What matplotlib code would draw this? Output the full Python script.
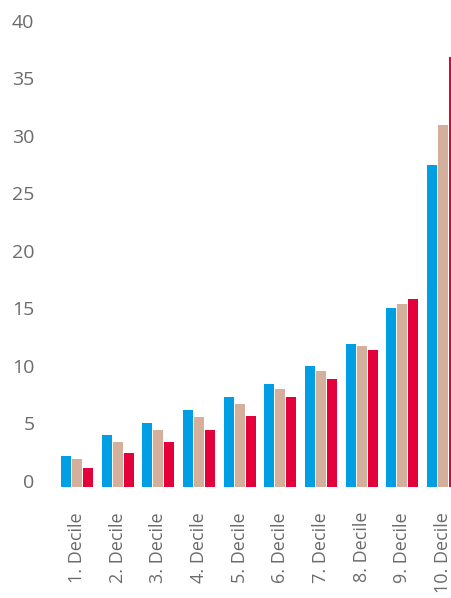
import numpy as np
import matplotlib.pyplot as plt
from matplotlib.transforms import ScaledTranslation

# Werte je Dezil
deciles = ['1. Decile', '2. Decile', '3. Decile', '4. Decile', '5. Decile',
           '6. Decile', '7. Decile', '8. Decile', '9. Decile', '10. Decile']
serie_a = [2.7, 4.5, 5.6, 6.7, 7.8, 9.0, 10.5, 12.4, 15.6, 28.0]
serie_b = [2.4, 3.9, 5.0, 6.1, 7.2, 8.5, 10.1, 12.3, 15.9, 31.5]
serie_c = [1.65, 3.0, 3.9, 5.0, 6.2, 7.8, 9.4, 11.9, 16.35, 37.4]

cores = ['#009FE3', '#D4B09C', '#E4003A']
cinza = '#6b6b6b'

plt.rcParams['font.family'] = ['Open Sans', 'DejaVu Sans']

fig = plt.figure(figsize=(4.52, 5.98), dpi=100)
ax = fig.add_axes([40 / 452, 1 - 487 / 598, 412 / 452, 477 / 598])

x = np.arange(len(deciles))
w = 0.246
passo = 0.27
for k, (vals, cor) in enumerate(zip([serie_a, serie_b, serie_c], cores)):
    ax.bar(x + (k - 1) * passo, vals, width=w, color=cor, linewidth=0)

ax.set_xlim(-0.91, 9.22)
ax.set_ylim(0, 41.5)
ax.set_yticks(np.arange(0, 41, 5))
ax.set_xticks(x)
ax.set_xticklabels(deciles, rotation=90, va='top', ha='center')

for s in ax.spines.values():
    s.set_visible(False)
ax.tick_params(axis='both', length=0, colors=cinza)
ax.tick_params(axis='y', pad=4, labelsize=14)
ax.tick_params(axis='x', pad=18, labelsize=13)

# rótulos do eixo y um pouco acima da marca
desloc = ScaledTranslation(0, 6.5 / 100, fig.dpi_scale_trans)
for lab in ax.get_yticklabels():
    lab.set_transform(lab.get_transform() + desloc)

fig.savefig('out.png', dpi=100)
